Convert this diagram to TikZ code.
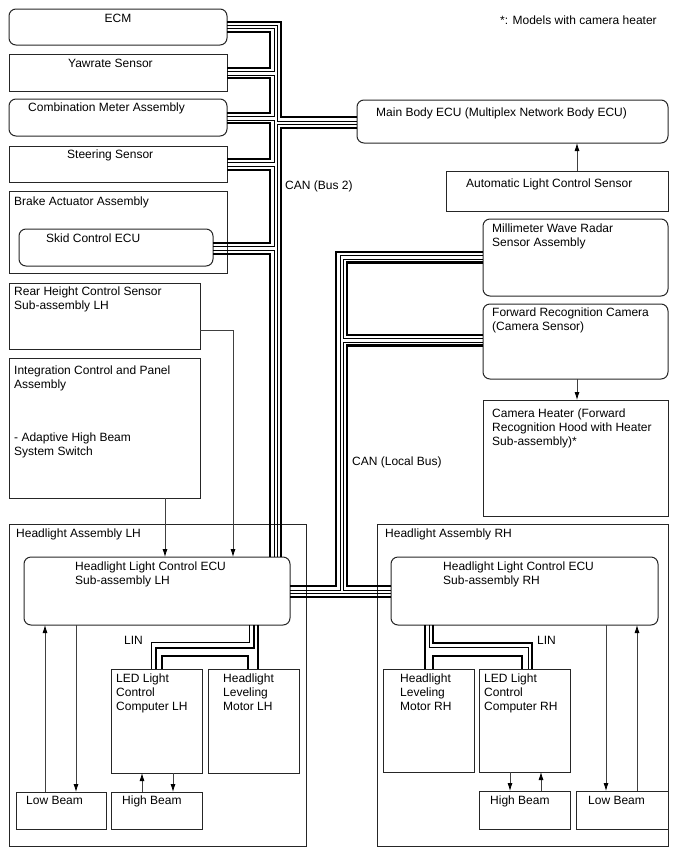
\documentclass[tikz,border=0pt]{standalone}
\usepackage{fontspec}
\setmainfont{Liberation Sans}
\usetikzlibrary{arrows.meta,fit}

\tikzset{
  box/.style={draw=black!85, line width=1pt, inner sep=0pt, outer sep=0pt},
  rbox/.style={box, rounded corners=7pt},
  txt/.style={anchor=north west, inner sep=0pt, align=left, font=\fontsize{12}{14}\selectfont},
  thk/.style={line width=2.8pt},
  thn/.style={line width=0.9pt},
  sig/.style={draw=black!75, line width=0.8pt, -{Latex[length=8pt,width=5pt,color=black]}},
}

\begin{document}
\begin{tikzpicture}[x=1pt, y=-1pt]
  \useasboundingbox (0,0) rectangle (688,852);

  % left column (Bus 2)
  \node[rbox, fit={(9,9) (227,45)}] (ecm) {};
  \node[box, fit={(9,54) (227,91)}] (yaw) {};
  \node[rbox, fit={(9,99) (227,136)}] (combo) {};
  \node[box, fit={(9,146) (227,182)}] (steer) {};
  \node[box, fit={(9,191) (227,273)}] (brake) {};
  \node[rbox, fit={(19,229) (213,266)}] (skid) {};
  \node[box, fit={(9,283) (200,349)}] (rear) {};
  \node[box, fit={(9,358) (200,498)}] (integ) {};

  % right column
  \node[rbox, fit={(357,100) (668,143)}] (mainbody) {};
  \node[box, fit={(446,171) (668,211)}] (autol) {};
  \node[rbox, fit={(483,219) (668,296)}] (radar) {};
  \node[rbox, fit={(483,304) (668,379)}] (cam) {};
  \node[box, fit={(483,400) (668,516)}] (heater) {};

  % headlight assemblies
  \node[box, fit={(9,524) (306,846)}] (hlL) {};
  \node[rbox, fit={(24,557) (290,625)}] (ecuL) {};
  \node[box, fit={(111,669) (202,773)}] (ledL) {};
  \node[box, fit={(208,669) (299,773)}] (motL) {};
  \node[box, fit={(16,792) (106,829)}] (lowL) {};
  \node[box, fit={(111,792) (202,829)}] (highL) {};
  \node[box, fit={(377,524) (668,846)}] (hlR) {};
  \node[rbox, fit={(391,557) (658,625)}] (ecuR) {};
  \node[box, fit={(383,669) (474,772)}] (motR) {};
  \node[box, fit={(479,669) (570,772)}] (ledR) {};
  \node[box, fit={(479,791) (570,829)}] (highR) {};
  \node[box, fit={(576,791) (668,829)}] (lowR) {};

  % texts
  \node[txt] (note) at (500,16) {*: Models with camera heater};
  \node[txt, anchor=north] (ecmT) at (118,14) {ECM};
  \node[txt] (yawT) at (68,59) {Yawrate Sensor};
  \node[txt] (comboT) at (28,103) {Combination Meter Assembly};
  \node[txt] (steerT) at (67,150) {Steering Sensor};
  \node[txt] (brakeT) at (14,197) {Brake Actuator Assembly};
  \node[txt] (skidT) at (46,234) {Skid Control ECU};
  \node[txt] (rearT) at (14,287) {Rear Height Control Sensor\\Sub-assembly LH};
  \node[txt] (integT) at (14,366) {Integration Control and Panel\\Assembly\\[39pt]- Adaptive High Beam\\System Switch};
  \node[txt] (mainT) at (376,108) {Main Body ECU (Multiplex Network Body ECU)};
  \node[txt] (autoT) at (466,179) {Automatic Light Control Sensor};
  \node[txt] (radarT) at (492,224) {Millimeter Wave Radar\\Sensor Assembly};
  \node[txt] (camT) at (492,308) {Forward Recognition Camera\\(Camera Sensor)};
  \node[txt] (heatT) at (492,409) {Camera Heater (Forward\\Recognition Hood with Heater\\Sub-assembly)*};
  \node[txt] (bus2T) at (285,181) {CAN (Bus 2)};
  \node[txt] (localT) at (352,457) {CAN (Local Bus)};
  \node[txt] (hlLT) at (16,529) {Headlight Assembly LH};
  \node[txt] (ecuLT) at (75,562) {Headlight Light Control ECU\\Sub-assembly LH};
  \node[txt] (linLT) at (124,636) {LIN};
  \node[txt] (ledLT) at (116,674) {LED Light\\Control\\Computer LH};
  \node[txt] (motLT) at (223,674) {Headlight\\Leveling\\Motor LH};
  \node[txt] (lowLT) at (26,796) {Low Beam};
  \node[txt] (highLT) at (122,796) {High Beam};
  \node[txt] (hlRT) at (385,529) {Headlight Assembly RH};
  \node[txt] (ecuRT) at (443,562) {Headlight Light Control ECU\\Sub-assembly RH};
  \node[txt] (linRT) at (537,636) {LIN};
  \node[txt] (motRT) at (400,674) {Headlight\\Leveling\\Motor RH};
  \node[txt] (ledRT) at (484,674) {LED Light\\Control\\Computer RH};
  \node[txt] (highRT) at (490,796) {High Beam};
  \node[txt] (lowRT) at (588,796) {Low Beam};

  % CAN (Bus 2): chain down the left column
  \draw[thk] (ecm.east |- 0,32) -| (270,68) -- (yaw.east |- 0,68);
  \draw[thn] (ecm.east |- 0,28.5) -| (274,71.5) -- (yaw.east |- 0,71.5);
  \draw[thn] (yaw.east |- 0,75) -| (274,116.5) -- (combo.east |- 0,116.5);
  \draw[thk] (yaw.east |- 0,78) -| (270,113) -- (combo.east |- 0,113);
  \draw[thn] (combo.east |- 0,120) -| (274,162.5) -- (steer.east |- 0,162.5);
  \draw[thk] (combo.east |- 0,123) -| (270,159) -- (steer.east |- 0,159);
  \draw[thn] (steer.east |- 0,166) -| (274,246.5) -- (skid.east |- 0,246.5);
  \draw[thk] (steer.east |- 0,170) -| (270,243) -- (skid.east |- 0,243);
  \draw[thn] (skid.east |- 0,250.5) -| (ecuL.north -| 274,0);
  \draw[thk] (skid.east |- 0,254) -| (ecuL.north -| 270,0);
  % CAN (Bus 2): ECM - Main Body ECU - headlight ECU LH
  \draw[thk] (ecm.east |- 0,22) -| (281,117) -- (mainbody.west |- 0,117);
  \draw[thn] (ecm.east |- 0,25.5) -| (277,121) -- (mainbody.west |- 0,121);
  \draw[thn] (mainbody.west |- 0,124.5) -| (ecuL.north -| 277,0);
  \draw[thk] (mainbody.west |- 0,128) -| (ecuL.north -| 281,0);

  % CAN (Local Bus)
  \draw[thn] (ecuL.east |- 0,593.5) -- (ecuR.west |- 0,593.5);
  \draw[thk] (ecuL.east |- 0,597) -- (ecuR.west |- 0,597);
  \draw[thk] (radar.west |- 0,252) -| (336,586) -- (ecuL.east |- 0,586);
  \draw[thn] (radar.west |- 0,255.5) -| (340,590) -- (ecuL.east |- 0,590);
  \draw[thn] (radar.west |- 0,259) -| (343.5,338.5) -- (cam.west |- 0,338.5);
  \draw[thk] (radar.west |- 0,262.5) -| (347,335) -- (cam.west |- 0,335);
  \draw[thn] (cam.west |- 0,342) -| (343.5,590) -- (ecuR.west |- 0,590);
  \draw[thk] (cam.west |- 0,345.5) -| (347,586) -- (ecuR.west |- 0,586);

  % LIN
  \draw[thn] (ecuL.south -| 249,0) |- (151,642) -- (ledL.north -| 151,0);
  \draw[thk] (ecuL.south -| 254,0) |- (156,648) -- (ledL.north -| 156,0);
  \draw[thk] (ledL.north -| 162,0) |- (248,656) -- (motL.north -| 248,0);
  \draw[thk] (ecuL.south -| 258,0) -- (motL.north -| 258,0);
  \draw[thk] (ecuR.south -| 425,0) -- (motR.north -| 425,0);
  \draw[thn] (ecuR.south -| 429,0) |- (528,647) -- (ledR.north -| 528,0);
  \draw[thk] (ecuR.south -| 433,0) |- (532,643) -- (ledR.north -| 532,0);
  \draw[thk] (motR.north -| 433,0) |- (522,656) -- (ledR.north -| 522,0);

  % signals
  \draw[sig] (autol.north -| 577,0) -- (mainbody.south -| 577,0);
  \draw[sig] (cam.south -| 577,0) -- (heater.north -| 577,0);
  \draw[sig] (rear.east |- 0,330) -| (ecuL.north -| 233,0);
  \draw[sig] (integ.south -| 165,0) -- (ecuL.north -| 165,0);
  \draw[sig] (lowL.north -| 45,0) -- (ecuL.south -| 45,0);
  \draw[sig] (ecuL.south -| 76,0) -- (lowL.north -| 76,0);
  \draw[sig] (highL.north -| 142,0) -- (ledL.south -| 142,0);
  \draw[sig] (ledL.south -| 173,0) -- (highL.north -| 173,0);
  \draw[sig] (ledR.south -| 510,0) -- (highR.north -| 510,0);
  \draw[sig] (highR.north -| 541,0) -- (ledR.south -| 541,0);
  \draw[sig] (ecuR.south -| 606,0) -- (lowR.north -| 606,0);
  \draw[sig] (lowR.north -| 637,0) -- (ecuR.south -| 637,0);
\end{tikzpicture}
\end{document}
